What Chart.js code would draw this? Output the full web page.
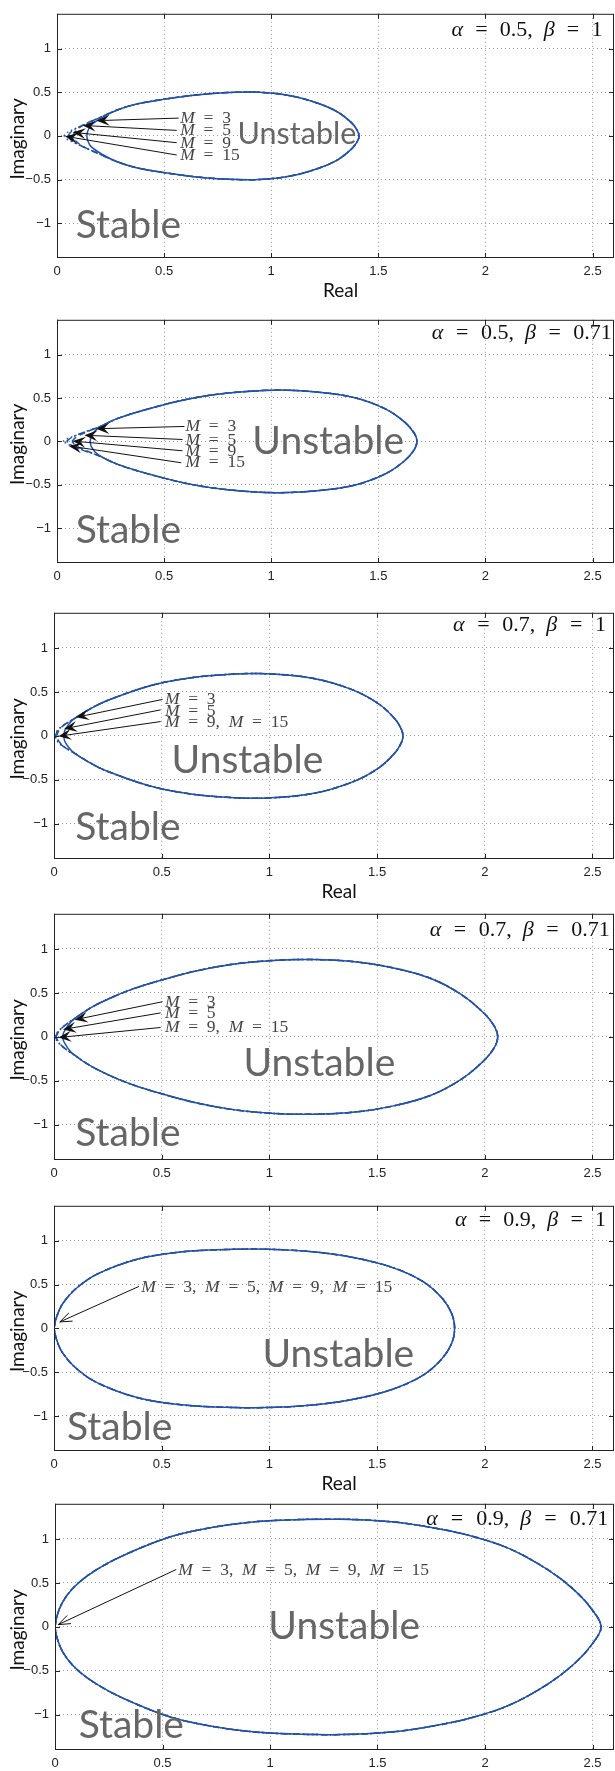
<!DOCTYPE html>
<html>
<head>
<meta charset="utf-8">
<script src="https://cdn.jsdelivr.net/npm/chart.js@4.4.1/dist/chart.umd.min.js"></script>
<style>
  html, body { margin: 0; padding: 0; background: #fff; }
  #page { position: relative; width: 615px; height: 1771px; overflow: hidden; }
  #page canvas { position: absolute; left: 0; }
</style>
</head>
<body>
<div id="page"></div>
<script>
// Stability boundaries in the complex plane, one panel per (alpha, beta) pair,
// each with the loci for M = 3, 5, 9 and 15.
const xTicks = [0, 0.5, 1, 1.5, 2, 2.5];
const yTicks = [-1, -0.5, 0, 0.5, 1];
const mLabels = ['M = 3', 'M = 5', 'M = 9', 'M = 15'];

const panelTitles = [
  'α = 0.5,  β = 1',
  'α = 0.5,  β = 0.71',
  'α = 0.7,  β = 1',
  'α = 0.7,  β = 0.71',
  'α = 0.9,  β = 1',
  'α = 0.9,  β = 0.71'
];

// Upper half of each boundary as [Re, Im], left to right. The body is shared
// by every M; the tips are the left ends, which differ per M (3, 5, 9, 15).
const p1Body = [[0.284, 0.30], [0.375, 0.367], [0.504, 0.422], [0.65, 0.47], [0.797, 0.497],
  [0.943, 0.5], [1.09, 0.46], [1.218, 0.374], [1.31, 0.274], [1.374, 0.152], [1.40, 0.07], [1.41, 0]];
const p1Tips = [
  [[0.139, 0], [0.143, 0.05], [0.158, 0.12], [0.21, 0.21]],
  [[0.075, 0], [0.085, 0.05], [0.12, 0.12], [0.2, 0.21]],
  [[0.052, 0], [0.065, 0.045], [0.11, 0.11], [0.2, 0.21]],
  [[0.032, 0], [0.045, 0.035], [0.1, 0.1], [0.2, 0.21]]
];

const p2Body = [[0.284, 0.265], [0.43, 0.377], [0.614, 0.489], [0.797, 0.556], [1.016, 0.59],
  [1.2, 0.571], [1.383, 0.507], [1.53, 0.377], [1.62, 0.228], [1.667, 0.097], [1.68, 0]];
const p2Tips = [
  [[0.155, 0], [0.16, 0.06], [0.19, 0.15]],
  [[0.07, 0], [0.09, 0.05], [0.14, 0.11], [0.2, 0.17]],
  [[0.045, 0], [0.065, 0.04], [0.12, 0.1], [0.2, 0.17]],
  [[0.028, 0], [0.048, 0.03], [0.11, 0.09], [0.2, 0.17]]
];

const p3Body = [[0.091, 0.19], [0.17, 0.31], [0.245, 0.40], [0.446, 0.57], [0.62, 0.655], [0.80, 0.698],
  [0.985, 0.707], [1.2, 0.656], [1.384, 0.526], [1.51, 0.36], [1.584, 0.19], [1.612, 0.08], [1.62, 0]];
const p3Tips = [
  [[0.045, 0], [0.05, 0.06], [0.065, 0.12]],
  [[0.012, 0], [0.025, 0.07], [0.05, 0.13]],
  [[0.006, 0], [0.02, 0.07], [0.05, 0.13]],
  [[0.003, 0], [0.018, 0.07], [0.05, 0.13]]
];

const p4Body = [[0.091, 0.2], [0.17, 0.33], [0.26, 0.44], [0.36, 0.54], [0.476, 0.63], [0.659, 0.75],
  [0.84, 0.83], [1.02, 0.87], [1.2, 0.88], [1.384, 0.858], [1.566, 0.79], [1.747, 0.667],
  [1.892, 0.48], [2.0, 0.26], [2.046, 0.114], [2.06, 0]];
const p4Tips = [
  [[0.04, 0], [0.045, 0.05], [0.065, 0.13]],
  [[0.01, 0], [0.022, 0.06], [0.05, 0.13]],
  [[0.005, 0], [0.02, 0.06], [0.05, 0.13]],
  [[0.003, 0], [0.018, 0.06], [0.05, 0.13]]
];

const p5Body = [[0.012, 0.13], [0.04, 0.28], [0.1, 0.45], [0.2, 0.62], [0.386, 0.79], [0.568, 0.867],
  [0.749, 0.897], [0.985, 0.904], [1.2, 0.875], [1.384, 0.812], [1.566, 0.70], [1.71, 0.54],
  [1.80, 0.35], [1.847, 0.166], [1.86, 0]];
const p5Tips = [[[0, 0]], [[0, 0]], [[0, 0]], [[0, 0]]];

const p6Body = [[0.01, 0.13], [0.035, 0.28], [0.08, 0.43], [0.15, 0.58], [0.25, 0.73], [0.38, 0.88],
  [0.53, 1.02], [0.655, 1.096], [0.836, 1.17], [1.018, 1.21], [1.327, 1.225], [1.564, 1.196],
  [1.745, 1.133], [1.927, 1.04], [2.11, 0.893], [2.29, 0.653], [2.418, 0.413], [2.5, 0.19], [2.54, 0]];
const p6Tips = [[[0, 0]], [[0, 0]], [[0, 0]], [[0, 0]]];

// annotation arrows [tailRe, tailIm, headRe, headIm] and their labels [text, Re, Im]
const p1Arrows = [[0.568, 0.204, 0.185, 0.175], [0.559, 0.063, 0.12, 0.12],
  [0.559, -0.078, 0.073, 0.041], [0.559, -0.219, 0.037, -0.004]];
const p1Labels = [[mLabels[0], 0.575, 0.144], [mLabels[1], 0.575, 0.007],
  [mLabels[2], 0.575, -0.137], [mLabels[3], 0.575, -0.28]];

const p2Arrows = [[0.595, 0.172, 0.183, 0.146], [0.586, 0.022, 0.128, 0.071],
  [0.586, -0.108, 0.073, 0.004], [0.58, -0.246, 0.055, -0.052]];
const p2Labels = [[mLabels[0], 0.6, 0.116], [mLabels[1], 0.6, -0.04],
  [mLabels[2], 0.6, -0.17], [mLabels[3], 0.6, -0.3]];

const p3Arrows = [[0.504, 0.415, 0.102, 0.211], [0.495, 0.296, 0.047, 0.081], [0.495, 0.163, 0.02, -0.004]];
const p3Labels = [[mLabels[0], 0.515, 0.36], [mLabels[1], 0.515, 0.23],
  [mLabels[2] + ',  ' + mLabels[3], 0.515, 0.10]];

const p4Arrows = [[0.504, 0.40, 0.096, 0.195], [0.495, 0.273, 0.042, 0.085], [0.495, 0.107, 0.02, -0.007]];
const p4Labels = [[mLabels[0], 0.515, 0.335], [mLabels[1], 0.515, 0.21],
  [mLabels[2] + ',  ' + mLabels[3], 0.515, 0.052]];

const p5Arrows = [[0.395, 0.48, 0.027, 0.074]];
const p5Labels = [[mLabels.join(',  '), 0.405, 0.413]];

const p6Arrows = [[0.564, 0.653, 0.015, 0.026]];
const p6Labels = [[mLabels.join(',  '), 0.573, 0.594]];

const curveColor = '#2352a8';
const mDash = [[], [6, 4], [6, 3, 1.5, 3], [1.5, 3]];

// title: [text, right edge Re, baseline Im, width in px]
const panels = [
  { top: 7, bottom: 258, left: 57, real: true, openHead: false, body: p1Body, tips: p1Tips,
    arrows: p1Arrows, labels: p1Labels, title: [panelTitles[0], 2.546, 1.148, 151],
    unstable: [1.12, -0.096, 30.5], stable: [0.333, -1.17] },
  { top: 313, bottom: 563, left: 57, real: false, openHead: false, body: p2Body, tips: p2Tips,
    arrows: p2Arrows, labels: p2Labels, title: [panelTitles[1], 2.59, 1.183, 180],
    unstable: [1.266, -0.146, 39], stable: [0.333, -1.17] },
  { top: 606, bottom: 859, left: 54, real: true, openHead: false, body: p3Body, tips: p3Tips,
    arrows: p3Arrows, labels: p3Labels, title: [panelTitles[2], 2.563, 1.196, 153],
    unstable: [0.898, -0.42, 39], stable: [0.343, -1.185] },
  { top: 907, bottom: 1160, left: 54, real: false, openHead: false, body: p4Body, tips: p4Tips,
    arrows: p4Arrows, labels: p4Labels, title: [panelTitles[3], 2.58, 1.149, 180],
    unstable: [1.232, -0.446, 39], stable: [0.343, -1.24] },
  { top: 1199, bottom: 1451, left: 54, real: true, openHead: true, body: p5Body, tips: p5Tips,
    arrows: p5Arrows, labels: p5Labels, title: [panelTitles[4], 2.563, 1.166, 151],
    unstable: [1.32, -0.443, 39], stable: [0.305, -1.28] },
  { top: 1497, bottom: 1750, left: 55, real: false, openHead: true, body: p6Body, tips: p6Tips,
    arrows: p6Arrows, labels: p6Labels, title: [panelTitles[5], 2.573, 1.155, 182],
    unstable: [1.345, -0.14, 39], stable: [0.355, -1.266] }
];

// close the loop by mirroring the upper half below the real axis
function closedLoop(tip, body) {
  const upper = tip.concat(body);
  const lower = upper.slice(0, -1).reverse().map(([x, y]) => [x, -y]);
  return upper.concat(lower).map(([x, y]) => ({ x, y }));
}

// serif text with italic math letters; extra room is put round each '='.
// With a width given, the size shrinks if needed so the text fits it.
function drawMath(ctx, str, x, y, size, align, color, width) {
  const parts = str.split(/([Mαβ=])/).filter(s => s.length);
  const fontOf = (p, s) => (/^[Mαβ]$/.test(p) ? 'italic ' : '') + s + 'px "Liberation Serif", serif';
  const eqs = parts.filter(p => p === '=').length;
  const measure = s => parts.reduce((sum, p) => { ctx.font = fontOf(p, s); return sum + ctx.measureText(p).width; }, 0);
  let w = measure(size);
  if (width && w > width * 0.88) {
    size = size * width * 0.88 / w;
    w = measure(size);
  }
  const pad = width ? (width - w) / (2 * eqs) : size * 0.25;
  w += pad * 2 * eqs;
  let cx = align === 'right' ? x - w : x;
  ctx.fillStyle = color;
  ctx.textAlign = 'left';
  ctx.textBaseline = 'alphabetic';
  parts.forEach(p => {
    ctx.font = fontOf(p, size);
    if (p === '=') cx += pad;
    ctx.fillText(p, cx, y);
    cx += ctx.measureText(p).width;
    if (p === '=') cx += pad;
  });
}

function drawArrow(ctx, x1, y1, x2, y2, open) {
  const ang = Math.atan2(y2 - y1, x2 - x1);
  const ux = Math.cos(ang), uy = Math.sin(ang);
  const nx = -uy, ny = ux;
  const len = open ? 12 : 13, half = open ? 4.5 : 5.5;
  ctx.strokeStyle = '#111';
  ctx.fillStyle = '#111';
  ctx.lineWidth = 1;
  ctx.beginPath();
  if (open) {
    ctx.moveTo(x1, y1);
    ctx.lineTo(x2, y2);
    ctx.moveTo(x2 - ux * len + nx * half, y2 - uy * len + ny * half);
    ctx.lineTo(x2, y2);
    ctx.lineTo(x2 - ux * len - nx * half, y2 - uy * len - ny * half);
    ctx.stroke();
    return;
  }
  ctx.moveTo(x1, y1);
  ctx.lineTo(x2 - ux * len * 0.6, y2 - uy * len * 0.6);
  ctx.stroke();
  ctx.beginPath();
  ctx.moveTo(x2, y2);
  ctx.lineTo(x2 - ux * len + nx * half, y2 - uy * len + ny * half);
  ctx.lineTo(x2 - ux * len * 0.6, y2 - uy * len * 0.6);
  ctx.lineTo(x2 - ux * len - nx * half, y2 - uy * len - ny * half);
  ctx.closePath();
  ctx.fill();
}

function decorPlugin(p) {
  return {
    id: 'panelDecor',
    afterDatasetsDraw(chart) {
      const ctx = chart.ctx;
      const xs = chart.scales.x, ys = chart.scales.y;
      const a = chart.chartArea;
      const px = v => xs.getPixelForValue(v);
      const py = v => ys.getPixelForValue(v);
      ctx.save();

      // box with inward tick marks
      ctx.strokeStyle = '#222';
      ctx.lineWidth = 1;
      ctx.strokeRect(a.left + 0.5, a.top + 0.5, a.right - a.left - 1, a.bottom - a.top - 1);
      ctx.beginPath();
      xTicks.forEach(v => {
        const x = Math.round(px(v)) + 0.5;
        ctx.moveTo(x, a.bottom); ctx.lineTo(x, a.bottom - 5);
        ctx.moveTo(x, a.top); ctx.lineTo(x, a.top + 5);
      });
      yTicks.forEach(v => {
        const y = Math.round(py(v)) + 0.5;
        ctx.moveTo(a.left, y); ctx.lineTo(a.left + 5, y);
        ctx.moveTo(a.right, y); ctx.lineTo(a.right - 5, y);
      });
      ctx.stroke();

      // region names
      ctx.fillStyle = '#666';
      ctx.textAlign = 'center';
      ctx.textBaseline = 'alphabetic';
      ctx.font = p.unstable[2] + 'px Lato';
      ctx.fillText('Unstable', px(p.unstable[0]), py(p.unstable[1]));
      ctx.font = '39px Lato';
      ctx.fillText('Stable', px(p.stable[0]), py(p.stable[1]));

      // M annotations
      p.arrows.forEach(([tx, ty, hx, hy]) => drawArrow(ctx, px(tx), py(ty), px(hx), py(hy), p.openHead));
      p.labels.forEach(([t, x, y]) => drawMath(ctx, t, px(x), py(y), 17.5, 'left', '#444'));

      // panel title
      const [tText, tx, ty, tw] = p.title;
      drawMath(ctx, tText, px(tx), py(ty), 22, 'right', '#111', tw);

      // axis titles
      ctx.fillStyle = '#111';
      ctx.font = '19px Lato';
      ctx.textAlign = 'center';
      ctx.textBaseline = 'middle';
      ctx.save();
      ctx.translate(17.5, (a.top + a.bottom) / 2 + 3);
      ctx.rotate(-Math.PI / 2);
      ctx.fillText('Imaginary', 0, 0);
      ctx.restore();
      if (p.real) ctx.fillText('Real', (a.left + a.right) / 2 + 5, a.bottom + 33);

      ctx.restore();
    }
  };
}

const page = document.getElementById('page');

panels.forEach(p => {
  const xh = p.real ? 42 : 26;
  const canvasTop = p.top - 7;
  const h = 7 + (p.bottom - p.top) + xh;
  const canvas = document.createElement('canvas');
  canvas.width = 615;
  canvas.height = h;
  canvas.style.top = canvasTop + 'px';
  canvas.style.width = '615px';
  canvas.style.height = h + 'px';
  page.appendChild(canvas);

  // draw M = 15 first so the solid M = 3 line ends up on top
  const datasets = [3, 2, 1, 0].map(i => ({
    label: mLabels[i],
    data: closedLoop(p.tips[i], p.body),
    showLine: true,
    borderColor: curveColor,
    borderWidth: 1.5,
    borderDash: mDash[i],
    pointRadius: 0,
    tension: 0.35,
    fill: false
  }));

  new Chart(canvas.getContext('2d'), {
    type: 'scatter',
    data: { datasets },
    options: {
      responsive: false,
      animation: false,
      devicePixelRatio: 1,
      layout: { padding: { top: 7, right: 1, left: 0, bottom: 0 } },
      plugins: { legend: { display: false }, tooltip: { enabled: false } },
      scales: {
        x: {
          type: 'linear', min: 0, max: 2.6,
          afterBuildTicks: s => { s.ticks = xTicks.map(value => ({ value })); },
          afterFit: s => { s.height = xh; },
          grid: { color: '#9a9a9a', lineWidth: 1, drawTicks: false },
          border: { display: false, dash: [1, 3] },
          ticks: {
            padding: 6, color: '#222', maxRotation: 0,
            font: { family: 'Liberation Sans', size: 13 },
            callback: v => String(v)
          }
        },
        y: {
          type: 'linear', min: -1.4, max: 1.4,
          afterBuildTicks: s => { s.ticks = yTicks.map(value => ({ value })); },
          afterFit: s => { s.width = p.left; },
          grid: { color: '#9a9a9a', lineWidth: 1, drawTicks: false },
          border: { display: false, dash: [1, 3] },
          ticks: {
            padding: 6, color: '#222',
            font: { family: 'Liberation Sans', size: 13 },
            callback: v => (v < 0 ? '\u2212' + (-v) : String(v))
          }
        }
      }
    },
    plugins: [decorPlugin(p)]
  });
});
</script>
</body>
</html>
